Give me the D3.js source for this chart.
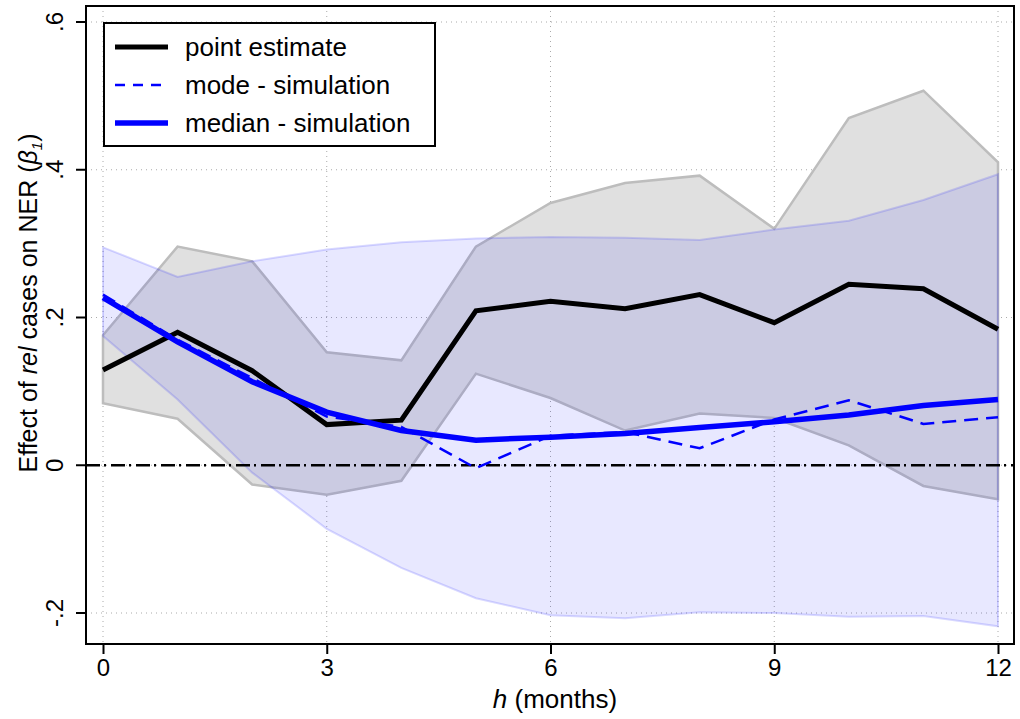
<!DOCTYPE html>
<html>
<head>
<meta charset="utf-8">
<script src="https://cdn.jsdelivr.net/npm/d3@7"></script>
<style>
  body { margin: 0; background: #fff; }
  text { font-family: "Liberation Sans", Arial, sans-serif; }
</style>
</head>
<body>
<svg id="chart"></svg>
<script>
// horizon in months
var horizons = [0, 1, 2, 3, 4, 5, 6, 7, 8, 9, 10, 11, 12];

// point estimate and its confidence band
var pointEstimate = [0.129, 0.180, 0.128, 0.055, 0.061, 0.209, 0.222, 0.212, 0.231, 0.193, 0.245, 0.239, 0.184];
var pointUpper = [0.176, 0.296, 0.276, 0.153, 0.142, 0.296, 0.355, 0.382, 0.392, 0.320, 0.470, 0.507, 0.410];
var pointLower = [0.084, 0.063, -0.026, -0.040, -0.021, 0.124, 0.091, 0.047, 0.070, 0.064, 0.027, -0.028, -0.046];

// simulation results
var modeSim = [0.231, 0.170, 0.118, 0.066, 0.052, -0.004, 0.040, 0.045, 0.023, 0.062, 0.088, 0.056, 0.065];
var medianSim = [0.227, 0.167, 0.113, 0.072, 0.047, 0.034, 0.038, 0.043, 0.051, 0.059, 0.068, 0.081, 0.089];
var simUpper = [0.295, 0.255, 0.276, 0.292, 0.302, 0.307, 0.309, 0.308, 0.305, 0.319, 0.331, 0.359, 0.394];
var simLower = [0.175, 0.089, -0.010, -0.086, -0.139, -0.180, -0.203, -0.207, -0.199, -0.200, -0.205, -0.204, -0.218];

var xTicks = [0, 3, 6, 9, 12];
var yTicks = [-0.2, 0, 0.2, 0.4, 0.6];
var yTickLabels = ["-.2", "0", ".2", ".4", ".6"];

var legendItems = [
    {label: "point estimate", color: "#000", width: 5, dash: null},
    {label: "mode - simulation", color: "#0000ff", width: 2.5, dash: "10,8"},
    {label: "median - simulation", color: "#0000ff", width: 5.5, dash: null}
];

var screen = {width: 1020, height: 719};
var box = {left: 86, top: 6, right: 1014, bottom: 644};

var svg = d3.select("#chart")
    .attr("width", screen.width)
    .attr("height", screen.height);

var xScale = d3.scaleLinear()
    .domain([0, 12])
    .range([103, 998]);

var yScale = d3.scaleLinear()
    .domain([-0.2, 0.6])
    .range([613, 22]);

// grid
var grid = svg.append("g");
grid.selectAll(".gx")
    .data(xTicks)
    .enter()
    .append("line")
    .attr("x1", function(d) { return xScale(d); })
    .attr("x2", function(d) { return xScale(d); })
    .attr("y1", box.top)
    .attr("y2", box.bottom)
    .attr("stroke", "#aaa")
    .attr("stroke-width", 1)
    .attr("stroke-dasharray", "1,4");
grid.selectAll(".gy")
    .data(yTicks)
    .enter()
    .append("line")
    .attr("x1", box.left)
    .attr("x2", box.right)
    .attr("y1", function(d) { return yScale(d); })
    .attr("y2", function(d) { return yScale(d); })
    .attr("stroke", "#aaa")
    .attr("stroke-width", 1)
    .attr("stroke-dasharray", "1,4");

// bands
var bandArea = function(lower, upper) {
    return d3.area()
        .x(function(d, i) { return xScale(horizons[i]); })
        .y0(function(d, i) { return yScale(lower[i]); })
        .y1(function(d, i) { return yScale(upper[i]); });
};

svg.append("path")
    .datum(horizons)
    .attr("d", bandArea(pointLower, pointUpper))
    .attr("fill", "#e0e0e0")
    .attr("stroke", "#bdbdbd")
    .attr("stroke-width", 2.5);

svg.append("path")
    .datum(horizons)
    .attr("d", bandArea(simLower, simUpper))
    .attr("fill", "#0000ff")
    .attr("fill-opacity", 0.09)
    .attr("stroke", "#0000ff")
    .attr("stroke-opacity", 0.15)
    .attr("stroke-width", 2);

// zero line
svg.append("line")
    .attr("x1", box.left)
    .attr("x2", box.right)
    .attr("y1", yScale(0))
    .attr("y2", yScale(0))
    .attr("stroke", "#000")
    .attr("stroke-width", 2.5)
    .attr("stroke-dasharray", "14,4,2,5");

// lines
var drawLine = function(values, color, width, dash) {
    var lineGenerator = d3.line()
        .x(function(d, i) { return xScale(horizons[i]); })
        .y(function(d) { return yScale(d); });
    var p = svg.append("path")
        .datum(values)
        .attr("d", lineGenerator)
        .attr("fill", "none")
        .attr("stroke", color)
        .attr("stroke-width", width)
        .attr("stroke-linejoin", "miter");
    if (dash) p.attr("stroke-dasharray", dash);
};

drawLine(pointEstimate, "#000", 5, null);
drawLine(modeSim, "#0000ff", 2.5, "14,8");
drawLine(medianSim, "#0000ff", 5.5, null);

// frame
svg.append("rect")
    .attr("x", box.left)
    .attr("y", box.top)
    .attr("width", box.right - box.left)
    .attr("height", box.bottom - box.top)
    .attr("fill", "none")
    .attr("stroke", "#000")
    .attr("stroke-width", 2);

// axes
var xAxis = d3.axisBottom(xScale)
    .tickValues(xTicks)
    .tickSize(10)
    .tickPadding(5);
var gx = svg.append("g")
    .attr("transform", "translate(0," + box.bottom + ")")
    .call(xAxis);
gx.select(".domain").remove();
gx.selectAll("line").attr("stroke-width", 2);
gx.selectAll("text")
    .attr("font-size", 24)
    .attr("fill", "#000")
    .attr("font-family", "Liberation Sans, Arial, sans-serif");

var yAxis = d3.axisLeft(yScale)
    .tickValues(yTicks)
    .tickSize(10)
    .tickFormat(function(d, i) { return yTickLabels[i]; });
var gy = svg.append("g")
    .attr("transform", "translate(" + box.left + ",0)")
    .call(yAxis);
gy.select(".domain").remove();
gy.selectAll("line").attr("stroke-width", 2);
gy.selectAll("text")
    .attr("font-size", 24)
    .attr("fill", "#000")
    .attr("font-family", "Liberation Sans, Arial, sans-serif")
    .attr("x", null)
    .attr("dy", null)
    .attr("text-anchor", "middle")
    .attr("transform", function(d) { return "translate(-23," + yScale(d) + ") rotate(-90)"; })
    .attr("y", 0);
gy.selectAll(".tick").attr("transform", null);
gy.selectAll(".tick line")
    .attr("y1", function(d) { return yScale(d); })
    .attr("y2", function(d) { return yScale(d); });

// axis titles
var xTitle = svg.append("text")
    .attr("x", 555)
    .attr("y", 708)
    .attr("text-anchor", "middle")
    .attr("font-size", 26);
xTitle.append("tspan").attr("font-style", "italic").text("h");
xTitle.append("tspan").text(" (months)");

var yTitle = svg.append("text")
    .attr("transform", "translate(37,303) rotate(-90)")
    .attr("text-anchor", "middle")
    .attr("font-size", 25);
yTitle.append("tspan").text("Effect of ");
yTitle.append("tspan").attr("font-style", "italic").text("rel");
yTitle.append("tspan").text(" cases on NER (");
yTitle.append("tspan").attr("font-style", "italic").text("β");
yTitle.append("tspan").attr("font-style", "italic").attr("font-size", 15).attr("dy", 5).text("1");
yTitle.append("tspan").attr("dy", -5).text(")");

// legend
var legend = svg.append("g");
legend.append("rect")
    .attr("x", 104)
    .attr("y", 23)
    .attr("width", 331)
    .attr("height", 123)
    .attr("fill", "#fff")
    .attr("stroke", "#000")
    .attr("stroke-width", 2);
var rows = legend.selectAll(".row")
    .data(legendItems)
    .enter()
    .append("g")
    .attr("transform", function(d, i) { return "translate(0," + (47 + i * 38) + ")"; });
rows.append("line")
    .attr("x1", 115)
    .attr("x2", 168)
    .attr("stroke", function(d) { return d.color; })
    .attr("stroke-width", function(d) { return d.width; })
    .attr("stroke-dasharray", function(d) { return d.dash; });
rows.append("text")
    .attr("x", 185)
    .attr("y", 9)
    .attr("font-size", 26)
    .text(function(d) { return d.label; });
</script>
</body>
</html>
